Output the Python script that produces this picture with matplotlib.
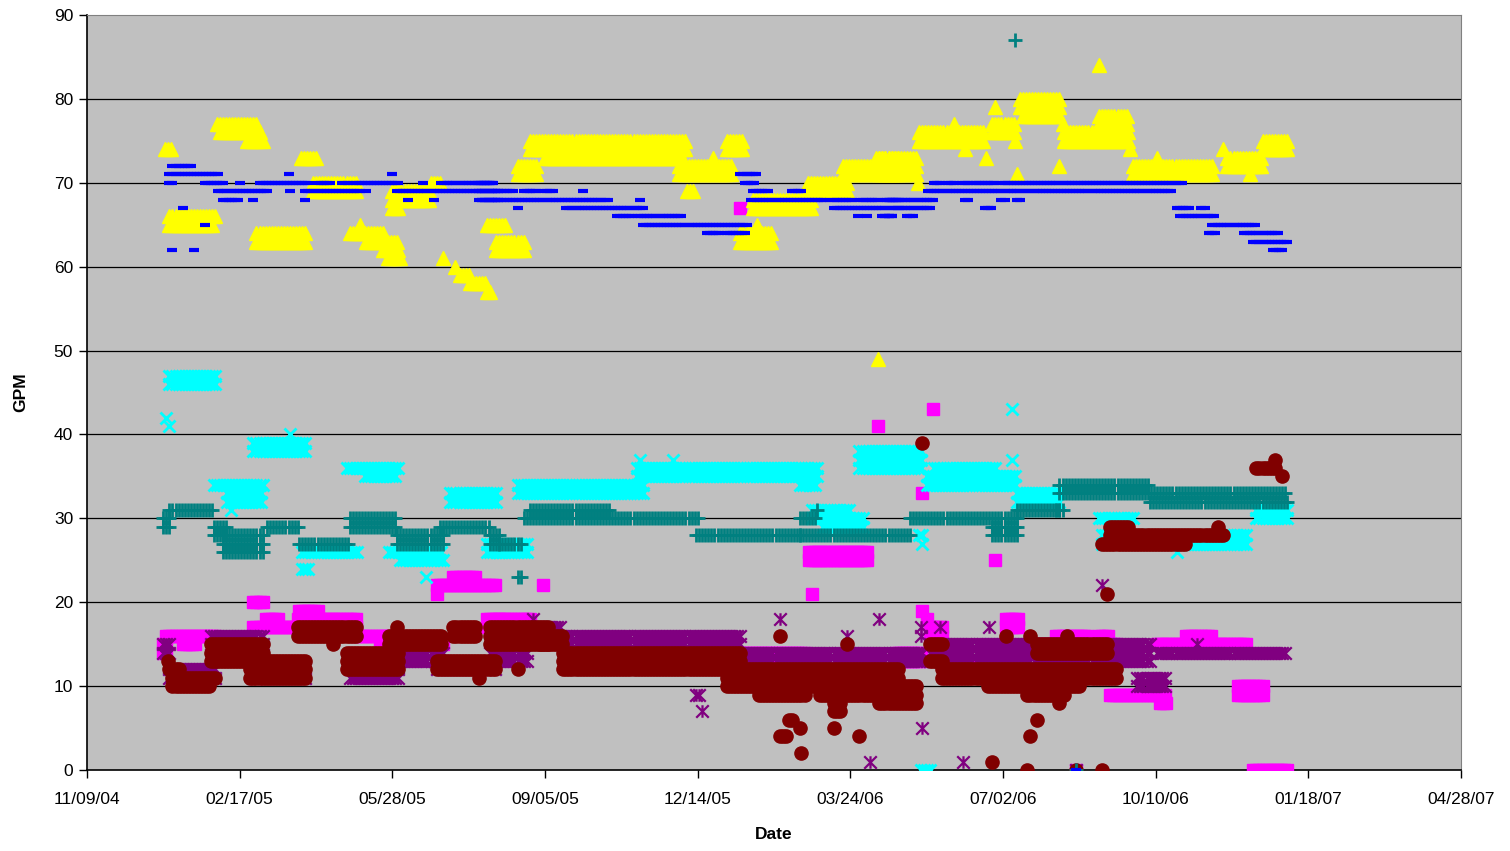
import datetime
import numpy as np
import matplotlib
matplotlib.use("Agg")
import matplotlib.pyplot as plt
from matplotlib.path import Path
from matplotlib import font_manager

# Flow readings (GPM), grouped as runs of equal value.
# Each run: (first day, last day, value), days counted from 11/09/04,
# one reading every second day inside a run.
start_date = datetime.date(2004, 11, 9)

blue_runs = [
    (56, 69, 72), (54, 87, 71), (54, 56, 70), (77, 89, 70), (100, 100, 70), (113, 146, 70),
    (86, 119, 69), (89, 100, 68), (109, 109, 68), (132, 132, 71), (133, 133, 69), (143, 180, 69),
    (143, 143, 68), (151, 159, 70), (167, 172, 70), (174, 205, 70), (200, 200, 71), (183, 183, 69),
    (203, 270, 69), (210, 210, 68), (227, 227, 68), (220, 220, 70), (232, 266, 70), (259, 270, 68),
    (63, 63, 67), (77, 77, 65), (56, 56, 62), (70, 70, 62),
    (257, 266, 70), (257, 280, 69), (286, 295, 69), (299, 305, 69), (325, 325, 69), (257, 342, 68),
    (282, 282, 67), (314, 364, 67), (347, 358, 66), (361, 390, 66), (364, 432, 65), (406, 415, 64),
    (419, 431, 64), (428, 439, 71), (431, 437, 70), (436, 447, 69), (435, 483, 68), (462, 469, 69),
    (489, 532, 67), (487, 502, 68), (506, 518, 68), (523, 532, 68), (505, 505, 66), (511, 511, 66),
    (521, 527, 66), (362, 362, 68),
    (532, 552, 67), (523, 527, 66), (537, 541, 66), (524, 554, 68), (551, 611, 69), (555, 560, 70),
    (564, 568, 70), (573, 577, 70), (580, 588, 70), (590, 595, 70), (599, 717, 70), (614, 711, 69),
    (575, 577, 68), (599, 601, 68), (609, 611, 68), (588, 593, 67), (714, 722, 67), (730, 733, 67),
    (716, 739, 66), (737, 766, 65), (735, 740, 64), (758, 781, 64), (764, 786, 63), (777, 783, 62),
    (648, 648, 0),
]

yellow_runs = [
    (51, 55, 74), (54, 85, 66), (54, 83, 65), (85, 111, 77), (87, 113, 76), (105, 115, 75),
    (111, 144, 64), (111, 144, 63), (140, 150, 73), (148, 177, 70), (148, 177, 69),
    (179, 179, 65), (172, 194, 64), (183, 203, 63), (194, 205, 62), (197, 205, 61),
    (200, 225, 69), (200, 225, 68), (200, 205, 67), (225, 232, 70),
    (233, 233, 61), (241, 241, 60), (244, 250, 59), (251, 262, 58), (262, 264, 57),
    (262, 275, 65), (268, 286, 63), (268, 286, 62), (282, 295, 72), (282, 295, 71),
    (290, 393, 74), (290, 393, 75), (300, 390, 73), (388, 423, 71), (388, 423, 72), (393, 397, 69),
    (410, 410, 73), (419, 430, 75), (419, 430, 74), (428, 449, 64), (428, 449, 63), (439, 439, 65),
    (436, 475, 68), (436, 475, 67), (472, 498, 70), (472, 498, 69), (495, 532, 72), (495, 532, 71),
    (517, 532, 73), (518, 518, 49),
    (519, 544, 73), (519, 544, 72), (519, 544, 71), (544, 544, 70), (545, 588, 76), (545, 588, 75),
    (568, 568, 77), (575, 575, 74), (589, 589, 73), (595, 595, 79), (593, 608, 77), (593, 608, 76),
    (608, 608, 75), (609, 609, 71), (611, 637, 80), (611, 637, 79), (613, 637, 78), (639, 639, 77),
    (637, 637, 72), (640, 683, 76), (640, 683, 75), (663, 663, 84), (663, 681, 78), (663, 681, 77),
    (683, 683, 74), (685, 737, 72), (685, 737, 71), (701, 701, 73), (744, 744, 74), (747, 770, 73),
    (747, 770, 72), (762, 762, 71), (770, 786, 75), (770, 786, 74),
]

cyan_runs = [
    (52, 52, 42), (54, 54, 41), (54, 84, 47), (54, 84, 46), (109, 144, 39), (109, 144, 38),
    (133, 133, 40), (83, 115, 34), (92, 115, 33), (92, 115, 32), (94, 94, 31), (170, 205, 36),
    (182, 203, 35), (238, 268, 33), (238, 268, 32), (141, 177, 26), (141, 146, 24),
    (198, 233, 26), (205, 233, 25), (222, 222, 23), (262, 270, 27), (262, 270, 26),
    (270, 288, 27), (270, 288, 26), (282, 364, 34), (282, 364, 33), (360, 478, 35), (360, 478, 36),
    (362, 362, 37), (384, 384, 37), (475, 500, 31), (475, 500, 30),
    (467, 478, 34), (482, 508, 30), (482, 508, 29), (506, 547, 38), (506, 547, 37), (506, 547, 36),
    (550, 609, 35), (550, 609, 34), (555, 595, 36), (545, 548, 28), (547, 547, 27),
    (609, 637, 33), (609, 637, 32), (606, 606, 43), (606, 606, 37), (663, 686, 30), (686, 696, 28),
    (665, 760, 28), (665, 760, 27), (714, 714, 26), (766, 786, 31), (766, 786, 30), (546, 552, 0),
]

teal_runs = [
    (50, 54, 30), (50, 54, 29), (54, 83, 31), (83, 92, 29), (83, 92, 28), (89, 115, 28),
    (89, 115, 27), (89, 115, 26), (118, 139, 29), (139, 172, 27), (172, 203, 30), (172, 203, 29),
    (203, 233, 28), (203, 233, 27), (231, 264, 29), (264, 270, 28), (264, 270, 27), (270, 284, 27),
    (282, 284, 23), (286, 401, 30), (290, 342, 31), (399, 467, 28), (467, 478, 30), (478, 478, 31),
    (467, 539, 28), (539, 609, 30), (593, 609, 29), (593, 609, 28), (609, 637, 31), (637, 696, 34),
    (637, 786, 33), (696, 786, 32), (635, 640, 31), (608, 608, 87), (648, 648, 0),
]

magenta_runs = [
    (50, 52, 15), (50, 52, 14), (52, 85, 16), (63, 72, 15), (109, 115, 20), (109, 138, 17),
    (117, 126, 18), (139, 151, 19), (138, 177, 18), (138, 177, 17), (177, 205, 16), (192, 205, 15),
    (207, 233, 15), (229, 268, 22), (240, 255, 23), (229, 229, 21), (262, 270, 18), (262, 270, 17),
    (270, 290, 18), (299, 299, 22), (360, 470, 14), (428, 428, 67), (473, 511, 26), (473, 511, 25),
    (475, 475, 21), (518, 518, 41), (554, 554, 43), (547, 547, 33), (595, 595, 25), (547, 547, 19),
    (550, 550, 18), (530, 547, 14), (530, 547, 13), (449, 475, 13), (552, 560, 17), (552, 560, 16),
    (560, 598, 13), (602, 611, 18), (602, 611, 17), (635, 655, 16), (663, 669, 16), (618, 675, 15),
    (635, 655, 14), (670, 707, 9), (703, 707, 8), (658, 668, 15), (701, 760, 15), (720, 737, 16),
    (754, 771, 10), (754, 771, 9), (764, 786, 0), (648, 648, 0),
]

purple_runs = [
    (50, 54, 15), (50, 54, 14), (54, 85, 12), (54, 85, 11), (81, 115, 16), (81, 115, 15),
    (109, 144, 12), (109, 144, 11), (172, 205, 12), (172, 205, 11), (205, 233, 14), (205, 233, 13),
    (229, 268, 12), (264, 288, 14), (264, 288, 13), (292, 292, 18), (290, 310, 17), (310, 428, 16),
    (310, 428, 15), (423, 547, 14), (423, 547, 13), (399, 401, 9), (403, 403, 7), (428, 432, 10),
    (439, 445, 10), (458, 458, 10), (454, 454, 18), (519, 519, 18), (513, 513, 1), (547, 547, 5),
    (546, 546, 17), (546, 546, 16), (498, 498, 16), (559, 559, 17), (574, 574, 1), (591, 591, 17),
    (552, 696, 15), (552, 696, 14), (552, 696, 13), (665, 665, 22), (688, 707, 11), (688, 707, 10),
    (701, 786, 14), (727, 727, 15), (648, 648, 0),
]

maroon_runs = [
    (53, 53, 13), (54, 60, 12), (56, 84, 11), (56, 80, 10), (81, 115, 15), (81, 115, 14),
    (81, 115, 13), (107, 144, 13), (107, 144, 12), (107, 144, 11), (138, 177, 17), (138, 177, 16),
    (161, 161, 15), (170, 205, 14), (170, 205, 13), (170, 205, 12), (203, 203, 17), (198, 233, 16),
    (198, 233, 15), (229, 268, 13), (229, 268, 12), (240, 255, 17), (240, 255, 16), (257, 257, 11),
    (264, 303, 17), (264, 303, 16), (264, 303, 15), (282, 282, 12), (297, 312, 16), (297, 312, 15),
    (312, 428, 14), (312, 428, 13), (312, 428, 12), (419, 532, 12), (419, 532, 11), (419, 532, 10),
    (440, 470, 9), (480, 520, 9), (454, 454, 16), (498, 498, 15), (460, 462, 6), (454, 458, 4),
    (467, 467, 5), (468, 468, 2), (489, 493, 7), (489, 493, 8), (489, 489, 5), (506, 506, 4),
    (519, 544, 10), (519, 544, 9), (519, 544, 8), (547, 547, 39), (552, 560, 15), (552, 560, 13),
    (560, 675, 12), (560, 675, 11), (590, 650, 10), (616, 640, 9), (637, 637, 8), (602, 602, 16),
    (618, 618, 16), (642, 642, 16), (622, 669, 15), (622, 669, 14), (668, 668, 21), (670, 682, 29),
    (670, 745, 28), (665, 720, 27), (741, 741, 29), (593, 593, 1), (616, 616, 0), (665, 665, 0),
    (622, 622, 6), (618, 618, 4), (766, 778, 36), (778, 778, 37), (783, 783, 35), (648, 648, 0),
]


def expand(runs):
    xs, ys = [], []
    for d0, d1, v in runs:
        for d in range(d0, d1 + 1, 2):
            xs.append(d)
            ys.append(v)
    return np.array(xs), np.array(ys)


# Excel style asterisk: x with a vertical bar
star = Path([(-1, -1), (1, 1), (-1, 1), (1, -1), (0, -1), (0, 1)],
            [Path.MOVETO, Path.LINETO, Path.MOVETO, Path.LINETO, Path.MOVETO, Path.LINETO])

names = {f.name for f in font_manager.fontManager.ttflist}
if "Liberation Sans Narrow" in names:
    fam, fs = "Liberation Sans Narrow", 13.5
else:
    fam, fs = "Liberation Sans", 12.5
plt.rcParams["font.family"] = [fam, "DejaVu Sans"]

fig = plt.figure(figsize=(15.1, 8.51), dpi=100)
ax = fig.add_axes([87 / 1510, 81 / 851, 1374 / 1510, 755 / 851])
ax.set_facecolor("#C0C0C0")

for y in range(10, 90, 10):
    ax.axhline(y, color="black", lw=0.9, zorder=1)

series = [
    (magenta_runs, dict(marker="s", ms=8.5, color="#FF00FF", mec="#FF00FF")),
    (yellow_runs, dict(marker="^", ms=9.5, color="#FFFF00", mec="#FFFF00")),
    (cyan_runs, dict(marker="x", ms=9, color="#00FFFF", mew=2.0)),
    (purple_runs, dict(marker=star, ms=9, color="#800080", mew=1.6)),
    (maroon_runs, dict(marker="o", ms=9.5, color="#800000", mec="#800000")),
    (teal_runs, dict(marker="+", ms=10, color="#008080", mew=2.0)),
    (blue_runs, dict(marker="_", ms=6.5, color="#0000FF", mew=3.0)),
]
for i, (runs, style) in enumerate(series):
    x, y = expand(runs)
    ax.plot(x, y, ls="none", zorder=3 + i, **style)

ax.set_xlim(0, 900)
ax.set_ylim(0, 90)
xt = np.arange(0, 901, 100)
ax.set_xticks(xt)
ax.set_xticklabels([(start_date + datetime.timedelta(days=int(t))).strftime("%m/%d/%y") for t in xt],
                   fontsize=fs)
ax.set_yticks(np.arange(0, 91, 10))
ax.tick_params(axis="y", labelsize=fs, direction="out", length=6, width=1, pad=4)
ax.tick_params(axis="x", direction="out", length=6, width=1, pad=10)

for s in ["top", "right"]:
    ax.spines[s].set_color("#808080")
for s in ["left", "bottom"]:
    ax.spines[s].set_color("black")
    ax.spines[s].set_linewidth(1.2)

ax.set_xlabel("Date", fontsize=fs, fontweight="bold", labelpad=14)
ax.set_ylabel("GPM", fontsize=fs, fontweight="bold", labelpad=18)

fig.savefig("out.png", dpi=100)
